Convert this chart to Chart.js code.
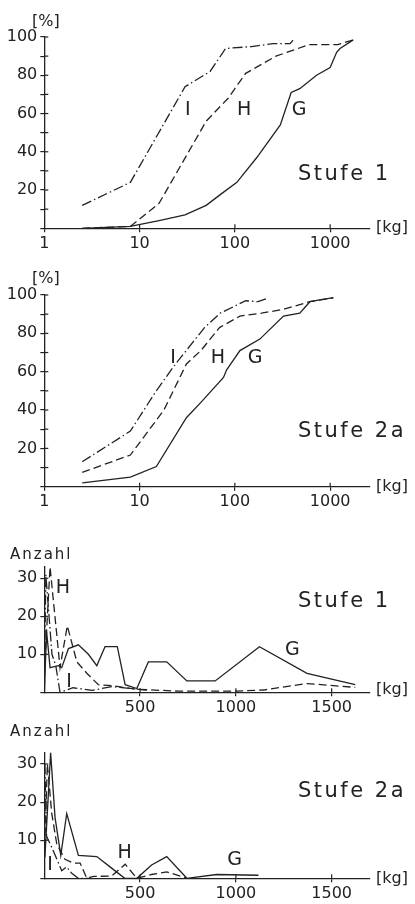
<!DOCTYPE html>
<html>
<head>
<meta charset="utf-8">
<script src="https://cdn.jsdelivr.net/npm/chart.js@4.4.1/dist/chart.umd.min.js"></script>
<style>
  body { margin: 0; background: #fff; width: 415px; height: 904px; position: relative; overflow: hidden; font-family: "DejaVu Sans", sans-serif; color: #222; }
  .box { position: absolute; left: 0; width: 415px; }
  .t { position: absolute; white-space: nowrap; line-height: 1; }
  .unit { font-size: 16px; }
  .stufe { font-size: 21px; letter-spacing: 2.5px; }
  .anz { font-size: 15px; letter-spacing: 2px; }
</style>
</head>
<body>
<div class="box" style="top:0;height:255px"><canvas id="c1"></canvas></div>
<div class="box" style="top:255px;height:265px"><canvas id="c2"></canvas></div>
<div class="box" style="top:520px;height:195px"><canvas id="c3"></canvas></div>
<div class="box" style="top:715px;height:189px"><canvas id="c4"></canvas></div>

<div class="t unit" style="left:32px;top:13px">[%]</div>
<div class="t unit" style="left:376px;top:219px">[kg]</div>
<div class="t stufe" style="left:298px;top:163px">Stufe 1</div>

<div class="t unit" style="left:32px;top:270px">[%]</div>
<div class="t unit" style="left:376px;top:478px">[kg]</div>
<div class="t stufe" style="left:298px;top:420px">Stufe 2a</div>

<div class="t anz" style="left:10px;top:547px">Anzahl</div>
<div class="t unit" style="left:376px;top:681px">[kg]</div>
<div class="t stufe" style="left:298px;top:590px">Stufe 1</div>

<div class="t anz" style="left:10px;top:724px">Anzahl</div>
<div class="t unit" style="left:376px;top:870px">[kg]</div>
<div class="t stufe" style="left:298px;top:780px">Stufe 2a</div>

<script>
// Stufe 1, Summenkurven (kg, %)
const s1CumKgG = [2.5, 8, 16, 30, 50, 72, 105, 170, 300, 390, 480, 720, 1000, 1170, 1270, 1750];
const s1CumPctG = [0, 1, 4, 7, 12, 18, 24, 37, 54, 71, 73, 80, 84, 92, 94, 98.5];
const s1CumKgH = [2.5, 8, 16, 50, 85, 130, 270, 600, 1200, 1750];
const s1CumPctH = [0, 1, 13, 56, 68, 81, 90, 96, 96, 98.5];
const s1CumKgI = [2.5, 8, 30, 55, 80, 150, 250, 380, 410];
const s1CumPctI = [12, 24, 74, 82, 94, 95, 96.5, 96.5, 98.5];

// Stufe 2a, Summenkurven (kg, %)
const s2CumKgG = [2.5, 8, 15, 31, 44, 76, 82, 113, 183, 324, 480, 614, 780, 1080];
const s2CumPctG = [2, 5, 10.5, 36, 44, 57, 61, 71, 77, 89, 90.5, 96.5, 97.5, 98.6];
const s2CumKgH = [2.5, 8, 18, 31, 44, 69, 113, 190, 320, 610, 1080];
const s2CumPctH = [7.5, 16.5, 40, 64, 71, 83, 89, 90.5, 92.5, 96.5, 98.5];
const s2CumKgI = [2.5, 8, 14.5, 23, 48, 70, 130, 175, 225];
const s2CumPctI = [13, 29, 49, 63, 83, 90.5, 97, 96.5, 98.5];

// Stufe 1, Anzahl je Gewichtsklasse
const s1NumKgG = [0, 12, 30, 74, 91, 126, 178, 230, 274, 317, 381, 422, 483, 543, 639, 744, 892, 1123, 1371, 1623];
const s1NumG = [0, 16, 6.5, 7, 6.5, 11.5, 12.5, 10, 7, 12, 12, 2, 1, 8, 8, 3, 3, 12, 5, 2];
const s1NumKgH = [0, 30, 82, 120, 170, 222, 282, 360, 480, 700, 1000, 1144, 1371, 1623];
const s1NumH = [5, 33, 6.5, 17.5, 8, 5, 2, 1.7, 0.8, 0.3, 0.3, 0.6, 2.3, 1.3];
const s1NumKgI = [0, 8, 40, 60, 82, 150, 250, 352, 450, 550];
const s1NumI = [0, 31, 10, 7, 0, 1.2, 0.5, 1.5, 1, 0.5];

// Stufe 2a, Anzahl je Gewichtsklasse
const s2NumKgG = [3, 33, 56, 86, 117, 178, 274, 343, 420, 483, 560, 639, 744, 900, 1118];
const s2NumG = [5.5, 33, 16, 6, 17, 6, 5.7, 3, 0, 0, 3.5, 5.7, 0, 1, 0.8];
const s2NumKgH = [0, 16, 39, 65, 108, 152, 187, 222, 257, 352, 422, 483, 560, 639, 744];
const s2NumH = [5, 30, 17, 9, 5, 4, 4, 0, 0.5, 0.6, 3.7, 0, 1, 1.7, 0];
const s2NumKgI = [3, 12, 40, 91, 117, 143, 178, 230];
const s2NumI = [30, 11, 8, 2, 3, 1.3, 0, 0];

const logTicks = [1, 10, 100, 1000];
const kgTicks = [500, 1000, 1500];
const pctTicks = [0, 10, 20, 30, 40, 50, 60, 70, 80, 90, 100];
const numTicks = [0, 10, 20, 30];

const INK = '#222';
const DASH_H = [8, 4];
const DASH_I = [10, 3, 1.5, 3];

function pts(xs, ys) {
    return xs.map((x, i) => ({ x: x, y: ys[i] }));
}

function series(xs, ys, dash) {
    return {
        data: pts(xs, ys),
        borderColor: INK,
        borderWidth: 1.3,
        borderDash: dash,
        pointRadius: 0,
        tension: 0,
        fill: false
    };
}

// tick marks crossing the axes, plus curve letters placed in data units
const axisMarks = {
    id: 'axisMarks',
    afterDatasetsDraw(chart, args, opts) {
        const ctx = chart.ctx;
        const xs = chart.scales.x, ys = chart.scales.y;
        ctx.save();
        ctx.strokeStyle = INK;
        ctx.lineWidth = 1.2;
        xs.ticks.forEach((t, i) => {
            if (t.value === xs.min) return;
            const px = xs.getPixelForTick(i);
            ctx.beginPath(); ctx.moveTo(px, xs.top); ctx.lineTo(px, xs.top - 4); ctx.stroke();
        });
        ys.ticks.forEach((t, i) => {
            if (t.value === ys.min) return;
            const py = ys.getPixelForTick(i);
            ctx.beginPath(); ctx.moveTo(ys.right, py); ctx.lineTo(ys.right + 4, py); ctx.stroke();
        });
        ctx.fillStyle = INK;
        ctx.font = '19px "DejaVu Sans"';
        ctx.textAlign = 'center';
        ctx.textBaseline = 'middle';
        (opts.labels || []).forEach(l => {
            ctx.fillText(l.text, xs.getPixelForValue(l.x), ys.getPixelForValue(l.y));
        });
        ctx.restore();
    }
};

function makeChart(id, cfg) {
    const tickFont = { family: 'DejaVu Sans', size: 16 };
    new Chart(document.getElementById(id), {
        type: 'line',
        data: { datasets: cfg.datasets },
        options: {
            responsive: true,
            maintainAspectRatio: false,
            animation: false,
            layout: { padding: { top: cfg.padTop, right: 45, left: 0, bottom: 0 } },
            plugins: {
                legend: { display: false },
                tooltip: { enabled: false },
                axisMarks: { labels: cfg.labels }
            },
            scales: {
                x: {
                    type: cfg.xType,
                    min: cfg.xMin,
                    max: cfg.xMax,
                    afterBuildTicks: s => { s.ticks = cfg.xTicks.map(v => ({ value: v })); },
                    afterFit: s => { s.height = cfg.xH; },
                    border: { color: INK, width: 1.3 },
                    grid: { drawOnChartArea: false, drawTicks: true, tickLength: 4, color: INK, lineWidth: 1.2 },
                    ticks: {
                        color: INK, font: tickFont, padding: 2, autoSkip: false, maxRotation: 0,
                        callback: v => cfg.xLabel(v)
                    }
                },
                y: {
                    min: 0,
                    max: cfg.yMax,
                    afterBuildTicks: s => { s.ticks = cfg.yTicks.map(v => ({ value: v })); },
                    afterFit: s => { s.width = 44.3; },
                    border: { color: INK, width: 1.3 },
                    grid: { drawOnChartArea: false, drawTicks: true, tickLength: 4, color: INK, lineWidth: 1.2 },
                    ticks: {
                        color: INK, font: tickFont, padding: 3, autoSkip: false,
                        callback: v => cfg.yLabel(v)
                    }
                }
            }
        },
        plugins: [axisMarks]
    });
}

const pctLabel = v => (v > 0 && v % 20 === 0 ? String(v) : '');
const numLabel = v => (v > 0 ? String(v) : '');

makeChart('c1', {
    xType: 'logarithmic', xMin: 1, xMax: 2620, xTicks: logTicks, xLabel: v => String(v),
    yMax: 100, yTicks: pctTicks, yLabel: pctLabel, padTop: 37, xH: 26.7,
    datasets: [
        series(s1CumKgG, s1CumPctG, []),
        series(s1CumKgH, s1CumPctH, DASH_H),
        series(s1CumKgI, s1CumPctI, DASH_I)
    ],
    labels: [
        { text: 'I', x: 32, y: 61.7 },
        { text: 'H', x: 125, y: 61.7 },
        { text: 'G', x: 471, y: 61.7 }
    ]
});

makeChart('c2', {
    xType: 'logarithmic', xMin: 1, xMax: 2620, xTicks: logTicks, xLabel: v => String(v),
    yMax: 100, yTicks: pctTicks, yLabel: pctLabel, padTop: 40, xH: 33.3,
    datasets: [
        series(s2CumKgG, s2CumPctG, []),
        series(s2CumKgH, s2CumPctH, DASH_H),
        series(s2CumKgI, s2CumPctI, DASH_I)
    ],
    labels: [
        { text: 'I', x: 22.4, y: 67 },
        { text: 'H', x: 66.5, y: 67 },
        { text: 'G', x: 163, y: 67 }
    ]
});

makeChart('c3', {
    xType: 'linear', xMin: 0, xMax: 1700, xTicks: kgTicks, xLabel: v => String(v),
    yMax: 33, yTicks: numTicks, yLabel: numLabel, padTop: 46.9, xH: 22.7,
    datasets: [
        series(s1NumKgG, s1NumG, []),
        series(s1NumKgH, s1NumH, DASH_H),
        series(s1NumKgI, s1NumI, DASH_I)
    ],
    labels: [
        { text: 'H', x: 97, y: 27.4 },
        { text: 'G', x: 1295, y: 11.1 },
        { text: 'I', x: 129, y: 2.6 }
    ]
});

makeChart('c4', {
    xType: 'linear', xMin: 0, xMax: 1700, xTicks: kgTicks, xLabel: v => String(v),
    yMax: 33, yTicks: numTicks, yLabel: numLabel, padTop: 37.6, xH: 25.7,
    datasets: [
        series(s2NumKgG, s2NumG, []),
        series(s2NumKgH, s2NumH, DASH_H),
        series(s2NumKgI, s2NumI, DASH_I)
    ],
    labels: [
        { text: 'H', x: 420, y: 6.6 },
        { text: 'G', x: 993, y: 4.8 },
        { text: 'I', x: 30, y: 3.5 }
    ]
});
</script>
</body>
</html>
